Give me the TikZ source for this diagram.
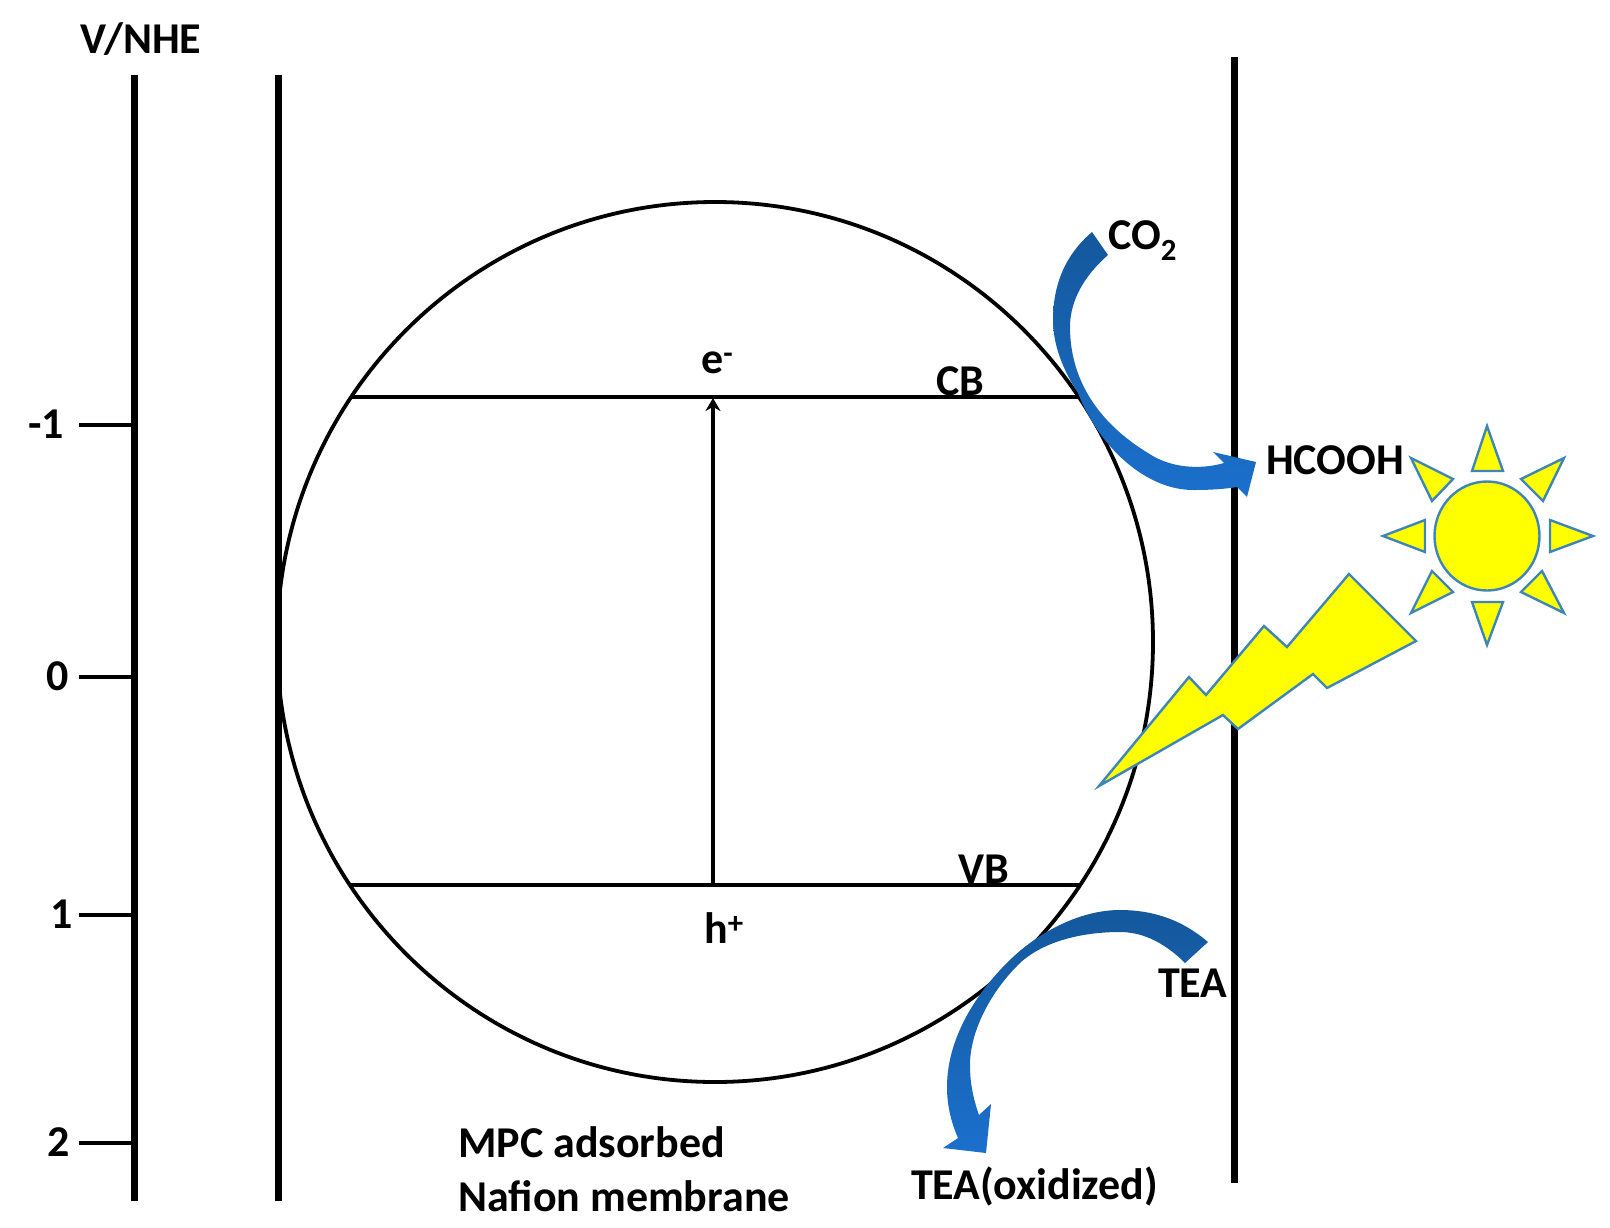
\documentclass[tikz,border=0pt]{standalone}
\usepackage{fontspec}
\setmainfont{Carlito}
\usetikzlibrary{positioning,arrows.meta,shapes.geometric}
\definecolor{arrowtop}{HTML}{14589C}
\definecolor{arrowlow}{HTML}{1B70CC}
\definecolor{sunline}{HTML}{3F86B8}
\definecolor{sunfill}{HTML}{FFFF00}
\tikzset{%
  >={Stealth[length=13pt,width=15pt]},
  lbl/.style={inner sep=0pt,anchor=base west,font=\fontsize{44}{48}\selectfont\bfseries},
  rail/.style={draw,line width=7pt},
  level/.style={draw,line width=3.8pt},
  tick/.style={draw,line width=4pt},
  sunpart/.style={draw=sunline,line width=2.4pt,fill=sunfill,line join=miter},
  bluearrow/.style={top color=arrowtop,bottom color=arrowlow,draw=none}
}
\begin{document}
\begin{tikzpicture}[x=1pt,y=-1pt]
	\useasboundingbox (0,0) rectangle (1610,1227);
	% axis and membrane
	\coordinate (axis-top) at (134,75);
	\coordinate (axis-bot) at (134,1201);
	\coordinate (mem-top) at (278,75);
	\coordinate (mem-bot) at (278,1201);
	\coordinate (right-top) at (1234,57);
	\coordinate (right-bot) at (1234,1183);
	\draw[rail] (axis-top) -- (axis-bot);
	\draw[rail] (mem-top) -- (mem-bot);
	\draw[rail] (right-top) -- (right-bot);
	\node[lbl] (vnhe) at (80,53) {V/NHE};
	% ticks
	\foreach \name/\ypos/\xlab in {-1/425/28,0/677/46,1/915/50,2/1143/47}{
		\node[lbl] (lab\name) at (\xlab,\ypos+13) {\name};
		\coordinate (tick\name) at (79,\ypos);
		\draw[tick] (tick\name) -- (tick\name -| axis-top);
	}
	% particle
	\node[draw,ellipse,line width=3.8pt,minimum width=876pt,minimum height=880pt,inner sep=0pt] (cat) at (715,642) {};
	\coordinate (cb-l) at (351,397);
	\coordinate (cb-r) at (1078,397);
	\coordinate (vb-l) at (351,885);
	\coordinate (vb-r) at (1080,885);
	\draw[level] (cb-l) -- (cb-r);
	\draw[level] (vb-l) -- (vb-r);
	\coordinate (hole) at (713,885);
	\coordinate (elec) at (713,398);
	\draw[->,line width=3.6pt] (hole) -- (elec);
	\node[lbl] (eminus) at (701,373) {e\textsuperscript{-}};
	\node[lbl] (cbl) at (936,395) {CB};
	\node[lbl] (vbl) at (958,883) {VB};
	\node[lbl] (hplus) at (704,943) {h\textsuperscript{+}};
	\node[lbl] (co2) at (1108,249) {CO\textsubscript{2}};
	\node[lbl] (hcooh) at (1266,474) {HCOOH};
	\node[lbl] (tea) at (1158,997) {TEA};
	\node[lbl] (teaox) at (911,1199) {TEA(oxidized)};
	\node[lbl] (mpc) at (458,1157) {MPC adsorbed};
	\node[lbl] (naf) at (458,1211) {Nafion membrane};
	% blue arrows
	\shade[bluearrow] (1092,232) .. controls (1065,255) and (1053,285) .. (1053,320)
		.. controls (1053,345) and (1063,370) .. (1078,393)
		.. controls (1098,445) and (1145,491) .. (1195,490)
		.. controls (1210,490) and (1225,489) .. (1237,487)
		-- (1247,497) -- (1256,462) -- (1213,452) -- (1224,463)
		.. controls (1200,470) and (1170,468) .. (1148,453)
		.. controls (1110,430) and (1070,390) .. (1070,327)
		.. controls (1070,300) and (1085,275) .. (1108,255) -- cycle;
	\shade[bluearrow] (1208,942) .. controls (1180,918) and (1150,910) .. (1120,910)
		.. controls (1080,910) and (1040,932) .. (1013,957)
		.. controls (980,988) and (947,1035) .. (947,1087)
		.. controls (947,1105) and (951,1122) .. (958,1138)
		-- (943,1148) -- (986,1153) -- (991,1104) -- (979,1115)
		.. controls (972,1095) and (970,1080) .. (970,1065)
		.. controls (970,1030) and (992,990) .. (1020,963)
		.. controls (1045,940) and (1085,932) .. (1120,932)
		.. controls (1145,932) and (1167,945) .. (1185,963) -- cycle;
	% lightning
	\draw[sunpart] (1099,786) -- (1189,677) -- (1206,695) -- (1264,626) -- (1287,647) -- (1349,574) -- (1416,641) -- (1327,688) -- (1313,674) -- (1238,729) -- (1223,715) -- cycle;
	% sun
	\node[sunpart,ellipse,minimum width=105pt,minimum height=109pt,inner sep=0pt] (sun) at (1487,536) {};
	\foreach \tipa/\basea/\baseb in {%
		{1487,426}/{1472,471}/{1503,471},
		{1487,645}/{1472,602}/{1503,602},
		{1383,536}/{1425,520}/{1425,552},
		{1593,536}/{1550,520}/{1550,552},
		{1411,458}/{1453,479}/{1432,501},
		{1564,458}/{1521,479}/{1543,501},
		{1411,613}/{1453,592}/{1432,571},
		{1564,613}/{1521,592}/{1542,571}}{
		\draw[sunpart] (\tipa) -- (\basea) -- (\baseb) -- cycle;
	}
\end{tikzpicture}
\end{document}
